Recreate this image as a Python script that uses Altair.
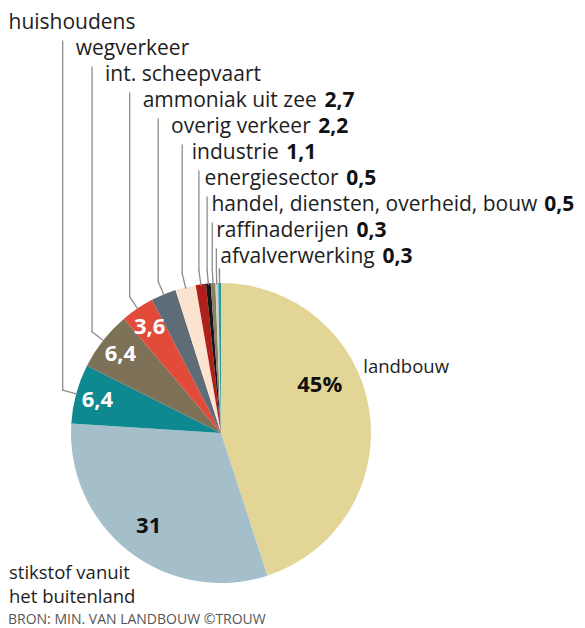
import math
import altair as alt
import pandas as pd

# ---------------- data ----------------
categories = [
    "landbouw", "stikstof vanuit het buitenland", "huishoudens", "wegverkeer",
    "int. scheepvaart", "ammoniak uit zee", "overig verkeer", "industrie",
    "energiesector", "handel, diensten, overheid, bouw", "raffinaderijen",
    "afvalverwerking",
]
values = [45, 31, 6.4, 6.4, 3.6, 2.7, 2.2, 1.1, 0.5, 0.5, 0.3, 0.3]
value_labels = ["45%", "31", "6,4", "6,4", "3,6", "2,7", "2,2", "1,1", "0,5", "0,5", "0,3", "0,3"]
colors = ["#E2D596", "#A5BFCA", "#0F8990", "#7D7157", "#E24A3A", "#5D6C76",
          "#FBE3D0", "#B0201B", "#151515", "#8A8068", "#D4D2C6", "#2C9C9A"]
callout_show_value = [False, False, False, True, True, True, True, True, True, True]
white_inside = ["huishoudens", "wegverkeer", "int. scheepvaart"]

# ---------------- layout ----------------
W, H = 569, 620
CX, CY, R = 213, 425, 150
FONT = "Open Sans"
FS = 21
ROW0, ROWH = 15, 26
LEAD = 14
LINE_COLOR = "#8c8c8c"
TEXT_COLOR = "#1e1e1e"

# approx. Open Sans Regular advance widths (units / 2048)
OS_W = {
    " ": 532, ",": 502, ".": 545, "a": 1139, "b": 1255, "c": 975, "d": 1255,
    "e": 1149, "f": 694, "g": 1122, "h": 1257, "i": 518, "j": 518, "k": 1075,
    "l": 518, "m": 1905, "n": 1257, "o": 1237, "p": 1255, "q": 1255, "r": 836,
    "s": 977, "t": 723, "u": 1257, "v": 1026, "w": 1593, "x": 1073, "y": 1028,
    "z": 977,
}


def text_w(s, fs):
    return sum(OS_W.get(c, 1150) for c in s) / 2048.0 * fs


total = float(sum(values))
mids = []
acc = 0.0
for v in values:
    mids.append(acc + v / 2.0)
    acc += v

df = pd.DataFrame({
    "cat": categories,
    "value": values,
    "idx": list(range(len(values))),
    "mid": mids,
    "vlab": value_labels,
})

# callout geometry (derived from slice mid angles)
line_rows, name_rows, val_rows = [], [], []
prev_tx = None
for k, i in enumerate(range(2, len(values))):
    a = mids[i] / total * 2 * math.pi
    ex, ey = CX + (R - 1) * math.sin(a), CY - (R - 1) * math.cos(a)
    tx, ty = CX + (R + LEAD) * math.sin(a), CY - (R + LEAD) * math.cos(a)
    row_y = ROW0 + ROWH * k
    line_rows.append({"ex": ex, "ey": ey, "tx": tx, "ty": ty, "top": row_y + 18})
    if prev_tx is None:
        lx = 0.5
    else:
        d = tx - prev_tx
        lx = prev_tx + max(5.0, min(14.0, 0.45 * d + 3.0)) - 1.0
    prev_tx = tx
    name_rows.append({"x": lx, "y": row_y, "t": categories[i]})
    if callout_show_value[k]:
        vx = lx + text_w(categories[i] + " ", FS) + 2
        val_rows.append({"x": vx, "y": row_y, "t": value_labels[i]})

lines_df = pd.DataFrame(line_rows)
names_df = pd.DataFrame(name_rows)
vals_df = pd.DataFrame(val_rows)

theta_scale = alt.Scale(domain=[0, total])
base = alt.Chart(df)

arcs = base.mark_arc(outerRadius=R).encode(
    theta=alt.Theta("value:Q", stack=True, scale=theta_scale),
    order=alt.Order("idx:Q", sort="ascending"),
    color=alt.Color("cat:N", scale=alt.Scale(domain=categories, range=colors), legend=None),
    x=alt.value(CX),
    y=alt.value(CY),
)

white_lbl = base.transform_filter(
    alt.FieldOneOfPredicate(field="cat", oneOf=white_inside)
).mark_text(radius=128, font=FONT, fontSize=22, fontWeight="bold", color="white",
            align="center", baseline="middle").encode(
    theta=alt.Theta("mid:Q", scale=theta_scale), text="vlab:N",
    x=alt.value(CX), y=alt.value(CY),
)

lbl31 = base.transform_filter(alt.datum.cat == categories[1]).mark_text(
    radius=118, font=FONT, fontSize=22, fontWeight="bold", color="#111",
    align="center", baseline="middle").encode(
    theta=alt.Theta("mid:Q", scale=theta_scale), text="vlab:N",
    x=alt.value(CX), y=alt.value(CY),
)

lbl45 = base.transform_filter(alt.datum.cat == categories[0]).mark_text(
    radius=100, dy=-32, font=FONT, fontSize=22, fontWeight="bold", color="#111",
    align="center", baseline="middle").encode(
    theta=alt.Theta("mid:Q", scale=theta_scale), text="vlab:N",
    x=alt.value(CX), y=alt.value(CY),
)

lbl_landbouw = base.transform_filter(alt.datum.cat == categories[0]).mark_text(
    radius=157, font=FONT, fontSize=18.5, color=TEXT_COLOR, align="left",
    baseline="middle", thetaOffset=-0.28).encode(
    theta=alt.Theta("mid:Q", scale=theta_scale), text="cat:N",
    x=alt.value(CX), y=alt.value(CY),
)

rule_diag = alt.Chart(lines_df).mark_rule(color=LINE_COLOR, strokeWidth=1.3, strokeCap="round").encode(
    x=alt.X("ex:Q", scale=None, axis=None), y=alt.Y("ey:Q", scale=None, axis=None),
    x2="tx:Q", y2="ty:Q",
)
rule_vert = alt.Chart(lines_df).mark_rule(color=LINE_COLOR, strokeWidth=1.3, strokeCap="round").encode(
    x=alt.X("tx:Q", scale=None, axis=None), y=alt.Y("ty:Q", scale=None, axis=None),
    y2="top:Q",
)

names = alt.Chart(names_df).mark_text(font=FONT, fontSize=FS, color=TEXT_COLOR,
                                      align="left", baseline="middle").encode(
    x=alt.X("x:Q", scale=None, axis=None), y=alt.Y("y:Q", scale=None, axis=None), text="t:N",
)
vals = alt.Chart(vals_df).mark_text(font=FONT, fontSize=FS, fontWeight="bold", color="#111",
                                    align="left", baseline="middle").encode(
    x=alt.X("x:Q", scale=None, axis=None), y=alt.Y("y:Q", scale=None, axis=None), text="t:N",
)

foot_df = pd.DataFrame({"t": ["stikstof vanuit", "het buitenland"], "y": [565, 589]})
foot = alt.Chart(foot_df).mark_text(font=FONT, fontSize=18.5, color=TEXT_COLOR,
                                    align="left", baseline="middle").encode(
    x=alt.value(1), y=alt.Y("y:Q", scale=None, axis=None), text="t:N",
)
src = alt.Chart(pd.DataFrame({"t": ["BRON: MIN. VAN LANDBOUW \u00a9TROUW"]})).mark_text(
    font=FONT, fontSize=14, color="#555555", align="left", baseline="middle").encode(
    x=alt.value(0), y=alt.value(612), text="t:N",
)

chart = alt.layer(
    arcs, rule_diag, rule_vert, white_lbl, lbl31, lbl45, lbl_landbouw,
    names, vals, foot, src,
).properties(
    width=W, height=H, autosize=alt.AutoSizeParams(type="none"), padding=0,
    background="white",
).configure_view(stroke=None)

chart.save("out.html", embed_options={"renderer": "svg", "actions": False})
